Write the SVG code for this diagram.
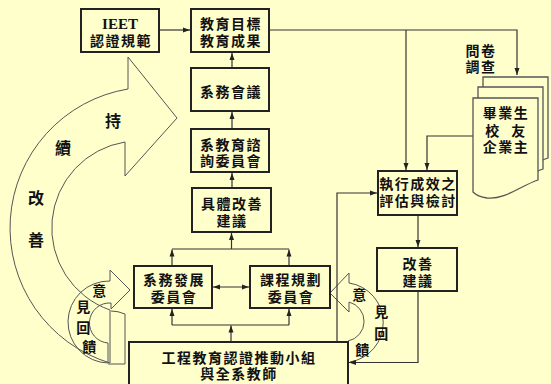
<svg xmlns="http://www.w3.org/2000/svg" width="551" height="384" viewBox="0 0 551 384">
<style>
.bg{fill:#FFFFCC}
.box{fill:#FFFFCC;stroke:#222;stroke-width:2}
.ln{fill:none;stroke:#333;stroke-width:1.2}
.shape{fill:none;stroke:#555;stroke-width:1}
.doc{fill:#FFFFCC;stroke:#555;stroke-width:1.3}
.t{font-family:"Noto Sans CJK TC","Noto Sans CJK SC",sans-serif;font-weight:bold;font-size:14px;fill:#111;text-anchor:middle;letter-spacing:1.5px}
.big{font-family:"Noto Sans CJK TC","Noto Sans CJK SC",sans-serif;font-weight:bold;font-size:16px;fill:#111;text-anchor:middle}
.en{font-family:"Liberation Serif",serif;font-weight:bold;font-size:15px;fill:#111;text-anchor:middle}
</style>
<defs>
<marker id="ah" markerUnits="userSpaceOnUse" markerWidth="8" markerHeight="6" refX="7" refY="3" orient="auto">
<path d="M0,0.5 L7,3 L0,5.5 Z" fill="#222"/>
</marker>
<marker id="ahs" markerUnits="userSpaceOnUse" markerWidth="8" markerHeight="6" refX="0" refY="3" orient="auto">
<path d="M7,0.5 L0,3 L7,5.5 Z" fill="#222"/>
</marker>
</defs>
<rect class="bg" x="0" y="0" width="551" height="384"/>

<g id="loop-arrow">
<path class="shape" d="M128,89 L128,57 L177,118 L125,176 L125,142 A87,87 0 0 0 110,310 L110,363 A141,141 0 0 1 128,89 Z"/>
<text class="big" x="113" y="127">持</text>
<text class="big" x="63" y="154">續</text>
<text class="big" x="36" y="204">改</text>
<text class="big" x="36" y="246">善</text>
</g>

<g id="feedback-left">
<path class="shape" d="M110,281 A41,41 0 0 0 108,363"/>
<path class="shape" d="M110,281 V270 L130,290 L111,309 V303 A20,20 0 0 0 108,343 V363"/>
<path class="shape" d="M111,311 Q118,311 125,314 V364 H108"/>
<text class="t" x="100" y="296">意</text>
<text class="t" x="84" y="312">見</text>
<text class="t" x="84" y="333">回</text>
<text class="t" x="90" y="352">饋</text>
</g>

<g id="feedback-right">
<path class="shape" d="M349,283 A40,40 0 0 1 350,362"/>
<path class="shape" d="M349,283 V273 L330,293 L349,312 V302 A20,20 0 0 1 348,341"/>
<text class="t" x="360" y="300">意</text>
<text class="t" x="382" y="317">見</text>
<text class="t" x="382" y="339">回</text>
<text class="t" x="363" y="355">饋</text>
</g>

<g id="connectors">
<path class="ln" d="M159,30 H190" marker-end="url(#ah)"/>
<path class="ln" d="M232,68 V53" marker-end="url(#ah)"/>
<path class="ln" d="M232,129 V112" marker-end="url(#ah)"/>
<path class="ln" d="M232,188 V173" marker-end="url(#ah)"/>
<path class="ln" d="M172,266 V249.5" marker-end="url(#ah)"/>
<path class="ln" d="M289,266 V249.5" marker-end="url(#ah)"/>
<path class="ln" d="M172,249 H289"/>
<path class="ln" d="M231.5,249 V233" marker-end="url(#ah)"/>
<path class="ln" d="M213,287 H249" marker-start="url(#ahs)" marker-end="url(#ah)"/>
<path class="ln" d="M231,342 V325.5" marker-end="url(#ah)"/>
<path class="ln" d="M172,325 H289"/>
<path class="ln" d="M172,325 V309" marker-end="url(#ah)"/>
<path class="ln" d="M289,325 V309" marker-end="url(#ah)"/>
<path class="ln" d="M269,30 H517 V75" marker-end="url(#ah)"/>
<path class="ln" d="M406,30 V170" marker-end="url(#ah)"/>
<path class="ln" d="M473,136 H427 V170" marker-end="url(#ah)"/>
<path class="ln" d="M418,215 V247" marker-end="url(#ah)"/>
<path class="ln" d="M418,291 V362.5 H349" marker-end="url(#ah)"/>
<path class="ln" d="M337,342 V193 H377" marker-end="url(#ah)"/>
</g>

<g id="survey">
<text class="t" x="481" y="56">問卷</text>
<text class="t" x="481" y="72">調查</text>
</g>

<g id="documents">
<path class="doc" d="M483,77 H548 V158 C530,164 515,178 497,176 C490,175 485,172 483,170 Z"/>
<path class="doc" d="M478,87 H543 V169 C525,175 510,189 492,187 C485,186 480,183 478,181 Z"/>
<path class="doc" d="M473,98 H538 V180 C520,186 505,200 487,198 C480,197 475,194 473,192 Z"/>
<text class="t" x="506" y="118">畢業生</text>
<text class="t" x="506" y="136" style="word-spacing:6px">校 友</text>
<text class="t" x="506" y="152">企業主</text>
</g>

<g id="ieet">
<rect class="box" x="81" y="9" width="78" height="43"/>
<text class="en" x="120" y="29">IEET</text>
<text class="t" x="121" y="46">認證規範</text>
</g>
<g id="goals">
<rect class="box" x="191" y="9" width="78" height="43"/>
<text class="t" x="231" y="29">教育目標</text>
<text class="t" x="231" y="46">教育成果</text>
</g>
<g id="dept-meeting">
<rect class="box" x="191" y="68" width="78" height="43"/>
<text class="t" x="231" y="97">系務會議</text>
</g>
<g id="advisory">
<rect class="box" x="191" y="129" width="78" height="43"/>
<text class="t" x="231" y="149.5">系教育諮</text>
<text class="t" x="231" y="165.5">詢委員會</text>
</g>
<g id="concrete">
<rect class="box" x="192" y="188" width="79" height="44"/>
<text class="t" x="232" y="209">具體改善</text>
<text class="t" x="232" y="226">建議</text>
</g>
<g id="dev-committee">
<rect class="box" x="134" y="266" width="78" height="42"/>
<text class="t" x="174" y="285">系務發展</text>
<text class="t" x="174" y="302">委員會</text>
</g>
<g id="curriculum">
<rect class="box" x="250" y="266" width="80" height="42"/>
<text class="t" x="291" y="285">課程規劃</text>
<text class="t" x="291" y="302">委員會</text>
</g>
<g id="team">
<rect class="box" x="129" y="342" width="219" height="46"/>
<text class="t" x="239" y="363">工程教育認證推動小組</text>
<text class="t" x="239" y="378.5">與全系教師</text>
</g>
<g id="evaluation">
<rect class="box" x="378" y="171" width="79" height="44"/>
<text class="t" x="418" y="188.5">執行成效之</text>
<text class="t" x="418" y="206">評估與檢討</text>
</g>
<g id="improve">
<rect class="box" x="377" y="248" width="80" height="43"/>
<text class="t" x="418" y="268.5">改善</text>
<text class="t" x="418" y="285.5">建議</text>
</g>
</svg>
